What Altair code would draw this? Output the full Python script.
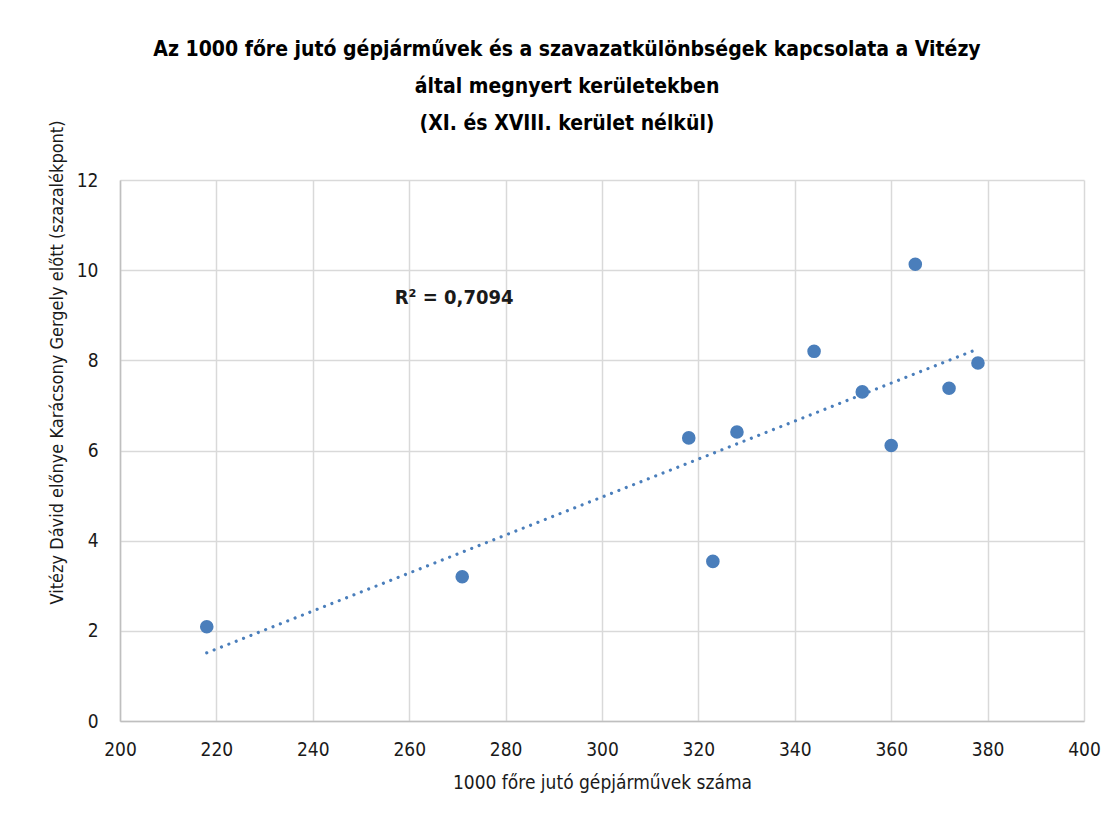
import altair as alt
import pandas as pd

# data
cars_per_1000 = [218, 271, 318, 323, 328, 344, 354, 360, 365, 372, 378]
margin_points = [2.09, 3.20, 6.28, 3.54, 6.41, 8.20, 7.30, 6.11, 10.13, 7.38, 7.94]

x_ticks = [200, 220, 240, 260, 280, 300, 320, 340, 360, 380, 400]
y_ticks = [0, 2, 4, 6, 8, 10, 12]

r2_label = "R² = 0,7094"
r2_pos_x = [257.0]
r2_pos_y = [9.38]

title_lines = [
    "Az 1000 főre jutó gépjárművek és a szavazatkülönbségek kapcsolata a Vitézy",
    "által megnyert kerületekben",
    "(XI. és XVIII. kerület nélkül)",
]
x_title = "1000 főre jutó gépjárművek száma"
y_title = "Vitézy Dávid előnye Karácsony Gergely előtt (szazalékpont)"

FONT = "DejaVu Sans Condensed, sans-serif"
BLUE = "#4a7ebb"

df = pd.DataFrame({"x": cars_per_1000, "y": margin_points})
lab = pd.DataFrame({"x": r2_pos_x, "y": r2_pos_y, "t": [r2_label]})

xscale = alt.Scale(domain=[200, 400], nice=False, zero=False)
yscale = alt.Scale(domain=[0, 12], nice=False)

xaxis = alt.Axis(
    values=x_ticks, title=x_title, grid=True, ticks=False,
    labelFont=FONT, labelFontSize=19, labelColor="#1a1a1a", labelPadding=19,
    titleFont=FONT, titleFontSize=19, titleFontWeight="normal", titleColor="#1a1a1a",
    titlePadding=14, domainColor="#bfbfbf", domainWidth=1.5,
    gridColor="#d9d9d9", gridWidth=1.5, labelFlush=False,
)
yaxis = alt.Axis(
    values=y_ticks, title=y_title, grid=True, ticks=False,
    labelFont=FONT, labelFontSize=19, labelColor="#1a1a1a", labelPadding=22,
    titleFont=FONT, titleFontSize=18, titleFontWeight="normal", titleColor="#1a1a1a",
    titleX=-63, titleY=182, titleAngle=-90, titleAlign="center", titleBaseline="middle",
    domainColor="#bfbfbf", domainWidth=1.5,
    gridColor="#d9d9d9", gridWidth=1.5, labelFlush=False,
)

base = alt.Chart(df)

points = base.mark_circle(size=185, opacity=1, color=BLUE).encode(
    x=alt.X("x:Q", scale=xscale, axis=xaxis),
    y=alt.Y("y:Q", scale=yscale, axis=yaxis),
)

trend = base.transform_regression("x", "y").mark_line(
    color=BLUE, strokeWidth=3.2, strokeDash=[0.01, 7.9], strokeCap="round"
).encode(x=alt.X("x:Q", scale=xscale), y=alt.Y("y:Q", scale=yscale))

label = alt.Chart(lab).mark_text(
    align="left", baseline="middle", font=FONT, fontSize=20, fontWeight="bold", color="#1a1a1a"
).encode(x=alt.X("x:Q", scale=xscale), y=alt.Y("y:Q", scale=yscale), text="t:N")

chart = alt.layer(trend, points, label).properties(
    width=964,
    height=541,
    autosize=alt.AutoSizeParams(type="none"),
    padding={"left": 112, "top": 172, "right": 20, "bottom": 90},
    title=alt.TitleParams(
        text=title_lines, font=FONT, fontSize=21, fontWeight="bold", color="#000000",
        anchor="middle", frame="group", dx=-35, offset=-14, lineHeight=37,
    ),
    background="white",
).configure_view(stroke=None)

chart.save("out.html", embed_options={"renderer": "svg", "actions": False})
